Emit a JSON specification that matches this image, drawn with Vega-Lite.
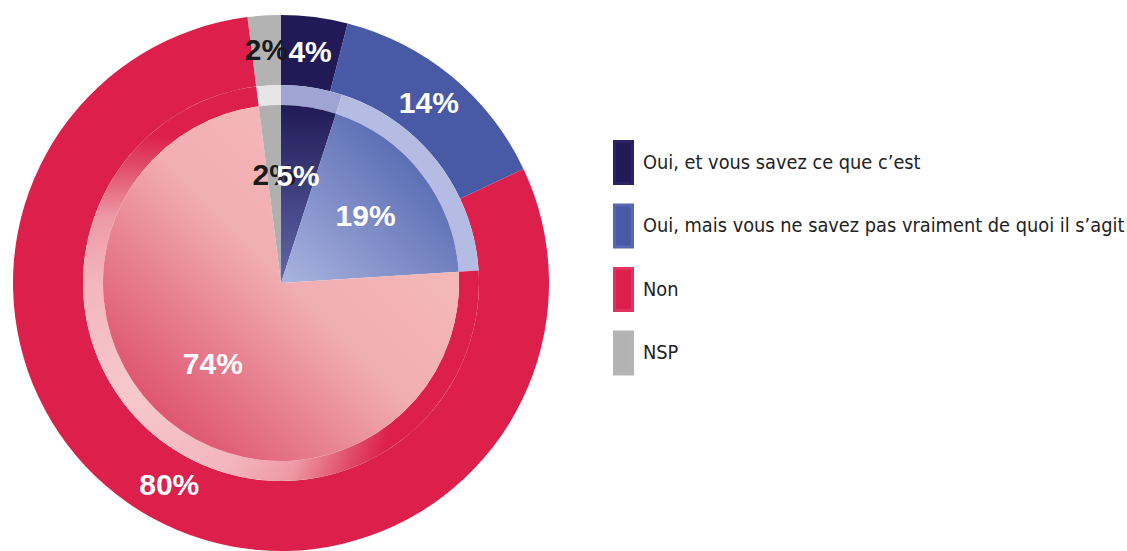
{
  "$schema": "https://vega.github.io/schema/vega-lite/v6.json",
  "autosize": "none",
  "padding": {"left": 0, "top": 0, "right": 565, "bottom": 0},
  "width": 562,
  "height": 566,
  "background": "white",
  "config": {"view": {"stroke": null}},
  "data": {
    "values": [
      {"ring": "outer", "category": "NSP", "value": 2, "order": 4, "label": "2%"},
      {"ring": "inner", "category": "NSP", "value": 2, "order": 4, "label": "2%"},
      {"ring": "outer", "category": "Oui, et vous savez ce que c’est", "value": 4, "order": 1, "label": "4%"},
      {"ring": "outer", "category": "Oui, mais vous ne savez pas vraiment de quoi il s’agit", "value": 14, "order": 2, "label": "14%"},
      {"ring": "outer", "category": "Non", "value": 80, "order": 3, "label": "80%"},
      {"ring": "inner", "category": "Oui, et vous savez ce que c’est", "value": 5, "order": 1, "label": "5%"},
      {"ring": "inner", "category": "Oui, mais vous ne savez pas vraiment de quoi il s’agit", "value": 19, "order": 2, "label": "19%"},
      {"ring": "inner", "category": "Non", "value": 74, "order": 3, "label": "74%"}
    ]
  },
  "transform": [
    {"stack": "value", "groupby": ["ring"], "sort": [{"field": "order"}], "as": ["t0", "t1"]}
  ],
  "layer": [
    {
      "transform": [{"filter": "datum.ring === 'outer'"}],
      "mark": {"type": "arc", "innerRadius": 198, "outerRadius": 268},
      "encoding": {
        "theta": {"field": "t0", "type": "quantitative", "scale": {"domain": [0, 100]}},
        "theta2": {"field": "t1"},
        "color": {
          "field": "category", "type": "nominal",
          "scale": {
            "domain": ["Oui, et vous savez ce que c’est", "Oui, mais vous ne savez pas vraiment de quoi il s’agit", "Non", "NSP"],
            "range": ["#211a57", "#4859a6", "#dc1f4b", "#b3b3b3"]
          },
          "legend": {
            "orient": "none", "legendX": 613, "legendY": 152, "title": null,
            "symbolType": "M-1,-2.33H1V2.33H-1Z", "symbolSize": 324, "symbolStrokeWidth": 0,
            "labelFont": "Liberation Sans Narrow, DejaVu Sans Condensed, sans-serif",
            "labelFontSize": 19.8, "labelColor": "#222222", "rowPadding": 8.5, "labelOffset": 9,
            "labelLimit": 600,
            "encode": {
              "symbols": {
                "update": {
                  "fill": {"signal": "datum.value === 'NSP' ? {gradient: 'linear', x1: 0, y1: 0, x2: 0, y2: 1, stops: [{offset: 0, color: '#a9a9a9'}, {offset: 1, color: '#e2e2e2'}]} : datum.value === 'Non' ? {gradient: 'linear', x1: 0, y1: 0, x2: 0, y2: 1, stops: [{offset: 0, color: '#dc1f4b'}, {offset: 1, color: '#f6c4c8'}]} : datum.value === 'Oui, et vous savez ce que c’est' ? {gradient: 'linear', x1: 0, y1: 0, x2: 0, y2: 1, stops: [{offset: 0, color: '#221a58'}, {offset: 1, color: '#8a8cc4'}]} : {gradient: 'linear', x1: 0, y1: 0, x2: 0, y2: 1, stops: [{offset: 0, color: '#4859a6'}, {offset: 1, color: '#aab4e0'}]}"},
                  "stroke": {"signal": "datum.value === 'NSP' ? '#b5b5b5' : datum.value === 'Non' ? '#e0345e' : datum.value === 'Oui, et vous savez ce que c’est' ? '#2a2466' : '#5868b0'"},
                  "strokeWidth": {"value": 3}
                }
              }
            }
          }
        }
      }
    },
    {
      "transform": [{"filter": "datum.ring === 'inner' && datum.order !== 3"}],
      "mark": {"type": "arc", "innerRadius": 178, "outerRadius": 198},
      "encoding": {
        "theta": {"field": "t0", "type": "quantitative", "scale": {"domain": [0, 100]}},
        "theta2": {"field": "t1"},
        "fill": {
          "field": "category", "type": "nominal",
          "scale": {
            "domain": ["Oui, et vous savez ce que c’est", "Oui, mais vous ne savez pas vraiment de quoi il s’agit", "Non", "NSP"],
            "range": ["#9ea4d4", "#b4bce3", "#f2b8bc", "#e6e6e6"]
          },
          "legend": null
        }
      }
    },
    {
      "transform": [{"filter": "datum.ring === 'inner' && datum.order === 3"}],
      "mark": {"type": "arc", "innerRadius": 178, "outerRadius": 198,
        "fill": {"gradient": "radial", "x1": 0.12, "y1": 0.78, "r1": 0, "x2": 0.12, "y2": 0.78, "r2": 1,
          "stops": [{"offset": 0, "color": "#f6c8cc"}, {"offset": 0.3, "color": "#f3b6bc"}, {"offset": 0.45, "color": "#ee9aa6"}, {"offset": 0.58, "color": "#e04a68"}, {"offset": 0.66, "color": "#dc1f4b"}, {"offset": 1, "color": "#dc1f4b"}]}},
      "encoding": {
        "theta": {"field": "t0", "type": "quantitative", "scale": {"domain": [0, 100]}},
        "theta2": {"field": "t1"}
      }
    },
    {
      "transform": [{"filter": "datum.ring === 'inner' && datum.order === 1"}],
      "mark": {"type": "arc", "innerRadius": 0, "outerRadius": 178,
        "fill": {"gradient": "linear", "x1": 0.5, "y1": 0, "x2": 0.5, "y2": 1,
          "stops": [{"offset": 0, "color": "#221a58"}, {"offset": 1, "color": "#6068a8"}]}},
      "encoding": {
        "theta": {"field": "t0", "type": "quantitative", "scale": {"domain": [0, 100]}},
        "theta2": {"field": "t1"}
      }
    },
    {
      "transform": [{"filter": "datum.ring === 'inner' && datum.order === 2"}],
      "mark": {"type": "arc", "innerRadius": 0, "outerRadius": 178,
        "fill": {"gradient": "linear", "x1": 0.9, "y1": 0.1, "x2": 0, "y2": 1,
          "stops": [{"offset": 0, "color": "#4a5eaa"}, {"offset": 1, "color": "#aab4e0"}]}},
      "encoding": {
        "theta": {"field": "t0", "type": "quantitative", "scale": {"domain": [0, 100]}},
        "theta2": {"field": "t1"}
      }
    },
    {
      "transform": [{"filter": "datum.ring === 'inner' && datum.order === 3"}],
      "mark": {"type": "arc", "innerRadius": 0, "outerRadius": 178,
        "fill": {"gradient": "linear", "x1": 0.85, "y1": 0.15, "x2": 0.1, "y2": 0.9,
          "stops": [{"offset": 0, "color": "#f5bcbc"}, {"offset": 0.45, "color": "#f1aeb2"}, {"offset": 1, "color": "#dc4a68"}]}},
      "encoding": {
        "theta": {"field": "t0", "type": "quantitative", "scale": {"domain": [0, 100]}},
        "theta2": {"field": "t1"}
      }
    },
    {
      "transform": [{"filter": "datum.ring === 'inner' && datum.order === 4"}],
      "mark": {"type": "arc", "innerRadius": 0, "outerRadius": 178, "fill": "#b0b0b0"},
      "encoding": {
        "theta": {"field": "t0", "type": "quantitative", "scale": {"domain": [0, 100]}},
        "theta2": {"field": "t1"}
      }
    },
    {
      "transform": [{"filter": "datum.ring === 'outer'"}],
      "mark": {"type": "text", "radius": 232, "font": "Liberation Sans", "fontWeight": "bold", "fontSize": 30},
      "encoding": {
        "theta": {"field": "value", "type": "quantitative", "stack": true, "scale": {"domain": [0, 100]}},
        "order": {"field": "order", "type": "quantitative"},
        "text": {"field": "label"},
        "color": {"condition": {"test": "datum.category === 'NSP'", "value": "#1a1a1a"}, "value": "white"}
      }
    },
    {
      "transform": [{"filter": "datum.ring === 'inner'"}],
      "mark": {"type": "text", "radius": 107, "font": "Liberation Sans", "fontWeight": "bold", "fontSize": 30},
      "encoding": {
        "theta": {"field": "value", "type": "quantitative", "stack": true, "scale": {"domain": [0, 100]}},
        "order": {"field": "order", "type": "quantitative"},
        "text": {"field": "label"},
        "color": {"condition": {"test": "datum.category === 'NSP'", "value": "#1a1a1a"}, "value": "white"}
      }
    }
  ],
  "resolve": {"scale": {"color": "independent", "fill": "independent"}}
}
